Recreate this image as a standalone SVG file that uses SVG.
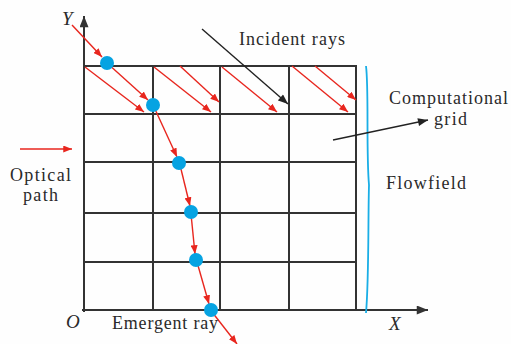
<svg xmlns="http://www.w3.org/2000/svg" width="511" height="344" viewBox="0 0 511 344">
<style>
.grid{stroke:#333;stroke-width:2;fill:none}
.ray{stroke:#e8261e;stroke-width:1.4;fill:none;marker-end:url(#ra)}
.pt{fill:#06a3e2}
.blk{stroke:#222;stroke-width:1.4;fill:none;marker-end:url(#ba)}
.lbl{font-family:"Liberation Serif",serif;font-size:18px;fill:#2a2a2a}
.it{font-family:"Liberation Serif",serif;font-size:19px;font-style:italic;fill:#2a2a2a}
</style>
<defs>
<marker id="ra" viewBox="0 0 10 8" refX="10" refY="4" markerWidth="9" markerHeight="7" markerUnits="userSpaceOnUse" orient="auto"><path d="M0,0 L10,4 L0,8 Z" fill="#e8261e"/></marker>
<marker id="ba" viewBox="0 0 10 8" refX="10" refY="4" markerWidth="11" markerHeight="8" markerUnits="userSpaceOnUse" orient="auto"><path d="M0,0 L10,4 L0,8 Z" fill="#222"/></marker>
<marker id="ax" viewBox="0 0 10 8" refX="10" refY="4" markerWidth="12" markerHeight="9" markerUnits="userSpaceOnUse" orient="auto"><path d="M0,0 L10,4 L0,8 Z" fill="#333"/></marker>
</defs>
<rect width="511" height="344" fill="#fefefe"/>
<g id="grid">
<rect class="grid" x="84" y="66" width="272" height="244"/>
<path class="grid" d="M153,66V310M220,66V310M289,66V310M84,114H356M84,162H356M84,213H356M84,262H356"/>
</g>
<g id="axes">
<line x1="84" y1="312" x2="84" y2="16" stroke="#333" stroke-width="2" marker-end="url(#ax)"/>
<line x1="82" y1="310" x2="428" y2="310" stroke="#333" stroke-width="2" marker-end="url(#ax)"/>
</g>
<g id="flowfield-boundary">
<path d="M366,66 C369,90 366,150 369,185 C368,220 369,280 366,313" stroke="#19aee6" stroke-width="1.8" fill="none"/>
</g>
<g id="connectors">
<line class="ray" x1="20" y1="149" x2="72" y2="149"/>
<line class="ray" x1="72" y1="25" x2="102" y2="57"/>
<line class="ray" x1="107" y1="63" x2="148" y2="100"/>
<line class="ray" x1="85" y1="67" x2="144" y2="112"/>
<line class="ray" x1="154" y1="67" x2="211" y2="112"/>
<line class="ray" x1="180" y1="66" x2="219" y2="102"/>
<line class="ray" x1="222" y1="67" x2="277" y2="112"/>
<line class="ray" x1="292" y1="66" x2="348" y2="112"/>
<line class="ray" x1="315" y1="66" x2="356" y2="100"/>
<line class="ray" x1="154" y1="107" x2="177" y2="157"/>
<line class="ray" x1="180" y1="165" x2="190" y2="206"/>
<line class="ray" x1="191" y1="214" x2="195" y2="254"/>
<line class="ray" x1="197" y1="262" x2="209" y2="304"/>
<line class="ray" x1="212" y1="312" x2="237" y2="344"/>
<line class="blk" x1="202" y1="29" x2="288" y2="104"/>
<line class="blk" x1="333" y1="140" x2="428" y2="120"/>
</g>
<g id="points">
<circle class="pt" cx="107" cy="63" r="7"/>
<circle class="pt" cx="153" cy="105" r="7"/>
<circle class="pt" cx="179" cy="163" r="7"/>
<circle class="pt" cx="191" cy="212" r="7"/>
<circle class="pt" cx="196" cy="260" r="7"/>
<circle class="pt" cx="211" cy="310" r="7"/>
</g>
<g id="labels">
<text class="it" x="62" y="25">Y</text>
<text class="it" x="66" y="328">O</text>
<text class="it" x="389" y="330">X</text>
<text class="lbl" x="239" y="45" textLength="106">Incident rays</text>
<text class="lbl" x="389" y="104" textLength="119">Computational</text>
<text class="lbl" x="434" y="125" textLength="33">grid</text>
<text class="lbl" x="386" y="189" textLength="80">Flowfield</text>
<text class="lbl" x="10" y="181" textLength="61">Optical</text>
<text class="lbl" x="23" y="201" textLength="35">path</text>
<text class="lbl" x="112" y="329" textLength="106">Emergent ray</text>
</g>
</svg>
